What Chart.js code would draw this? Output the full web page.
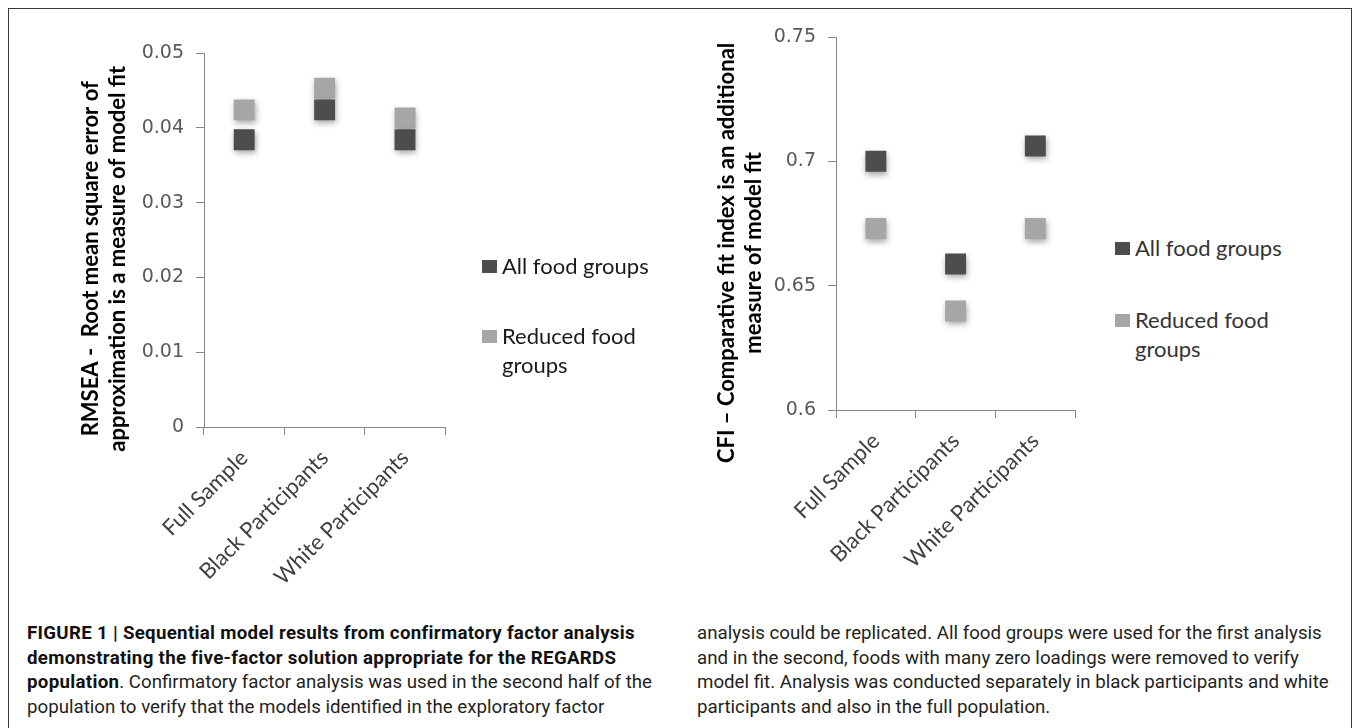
<!DOCTYPE html>
<html>
<head>
<meta charset="utf-8">
<script src="https://cdn.jsdelivr.net/npm/chart.js@4.4.1/dist/chart.umd.min.js"></script>
<style>
  body { margin: 0; background: #fff; width: 1354px; height: 728px; overflow: hidden; position: relative; }
  #frame { position: absolute; left: 8px; top: 8px; width: 1344px; height: 800px; border: 1.5px solid #3a3a3a; box-sizing: border-box; }
  .plot { position: absolute; top: 0; }
  .legend { position: absolute; font-family: Lato, sans-serif; font-size: 22px; line-height: 29px; white-space: nowrap; }
  .legend .item { position: absolute; left: 0; }
  .legend .sw { position: absolute; width: 15px; height: 13px; left: 0; top: 9px; }
  .legend .txt { position: absolute; left: 20px; top: 0; }
  .caption { position: absolute; top: 621px; font-family: Roboto, "Liberation Sans", sans-serif; font-size: 18.7px; line-height: 24.5px; color: #231f20; white-space: nowrap; }
  .caption b { font-weight: bold; letter-spacing: 0.3px; color: #111; }
</style>
</head>
<body>
<div id="frame"></div>

<div class="plot" style="left:0px"><canvas id="rmseaChart" width="460" height="600"></canvas></div>
<div class="plot" style="left:640px"><canvas id="cfiChart" width="450" height="600"></canvas></div>

<div class="legend" style="left:482px; top:0; color:#1a1a1a">
  <div class="item" style="top:251px"><div class="sw" style="background:#4d4d4d"></div><div class="txt">All food groups</div></div>
  <div class="item" style="top:321px"><div class="sw" style="background:#a6a6a6"></div><div class="txt">Reduced food<br>groups</div></div>
</div>
<div class="legend" style="left:1115px; top:0; color:#333">
  <div class="item" style="top:233px"><div class="sw" style="background:#4d4d4d"></div><div class="txt">All food groups</div></div>
  <div class="item" style="top:305px"><div class="sw" style="background:#a6a6a6"></div><div class="txt">Reduced food<br>groups</div></div>
</div>

<div class="caption" style="left:27px">
  <b>FIGURE 1 | Sequential model results from confirmatory factor analysis</b><br>
  <b>demonstrating the five-factor solution appropriate for the REGARDS</b><br>
  <b>population</b>. Confirmatory factor analysis was used in the second half of the<br>
  population to verify that the models identified in the exploratory factor
</div>
<div class="caption" style="left:697px">
  analysis could be replicated. All food groups were used for the first analysis<br>
  and in the second, foods with many zero loadings were removed to verify<br>
  model fit. Analysis was conducted separately in black participants and white<br>
  participants and also in the full population.
</div>

<script>
const categories = ['Full Sample', 'Black Participants', 'White Participants'];
const seriesNames = ['All food groups', 'Reduced food groups'];

// RMSEA panel
const rmseaAll = [0.0384, 0.0424, 0.0384];
const rmseaReduced = [0.0424, 0.0453, 0.0413];

// CFI panel
const cfiAll = [0.700, 0.6587, 0.7062];
const cfiReduced = [0.673, 0.6398, 0.673];

const darkGrey = '#4d4d4d';
const lightGrey = '#a6a6a6';
const axisGrey = '#868686';

// soft drop shadow under the square markers, like the Excel original
const markerShadow = {
    id: 'markerShadow',
    beforeDatasetsDraw(chart) {
        const c = chart.ctx;
        c.save();
        c.shadowColor = 'rgba(0,0,0,0.35)';
        c.shadowBlur = 6;
        c.shadowOffsetX = 1;
        c.shadowOffsetY = 3;
    },
    afterDatasetsDraw(chart) {
        chart.ctx.restore();
    }
};

function dataset(label, values, color) {
    return {
        label: label,
        data: values,
        showLine: false,
        pointStyle: 'rect',
        pointRadius: 14.8,
        pointHoverRadius: 14.8,
        pointBorderWidth: 0,
        backgroundColor: color,
        borderColor: color,
    };
}

function buildChart(canvasId, all, reduced, yMin, yMax, yStep, titleLines, pad, yWidth, xHeight) {
    const config = {
        type: 'line',
        data: {
            labels: categories,
            datasets: [
                dataset(seriesNames[0], all, darkGrey),
                dataset(seriesNames[1], reduced, lightGrey),
            ]
        },
        options: {
            responsive: false,
            animation: false,
            layout: { padding: pad },
            plugins: {
                legend: { display: false },
                tooltip: { enabled: false }
            },
            scales: {
                x: {
                    offset: true,
                    grid: {
                        offset: true,
                        drawOnChartArea: false,
                        drawTicks: true,
                        tickLength: 8,
                        color: axisGrey,
                    },
                    border: { display: true, color: axisGrey, width: 1 },
                    ticks: {
                        minRotation: 45,
                        maxRotation: 45,
                        padding: 10,
                        color: '#404040',
                        font: { family: 'Lato', size: 22 }
                    },
                    afterFit(scale) { scale.height = xHeight; }
                },
                y: {
                    min: yMin,
                    max: yMax,
                    grid: {
                        drawOnChartArea: false,
                        drawTicks: true,
                        tickLength: 8,
                        color: axisGrey,
                    },
                    border: { display: true, color: axisGrey, width: 1 },
                    ticks: {
                        stepSize: yStep,
                        padding: 12,
                        color: '#595959',
                        font: { family: 'DejaVu Sans', size: 19 },
                        callback: (v) => String(parseFloat(v.toFixed(4)))
                    },
                    title: {
                        display: true,
                        text: titleLines,
                        color: '#000',
                        font: { family: 'Lato', size: 22, weight: 'bold', lineHeight: 1.2 }
                    },
                    afterFit(scale) { scale.width = yWidth; }
                }
            }
        },
        plugins: [markerShadow]
    };
    return new Chart(document.getElementById(canvasId), config);
}

document.addEventListener('DOMContentLoaded', function () {
    // trailing spaces nudge the rotated titles down, as in the original layout
    buildChart('rmseaChart', rmseaAll, rmseaReduced, 0, 0.05, 0.01,
        ['RMSEA -  Root mean square error of       ', 'approximation is a measure of model fit       '],
        { left: 74, top: 53, right: 14, bottom: 0 }, 130, 173);

    buildChart('cfiChart', cfiAll, cfiReduced, 0.6, 0.75, 0.05,
        ['CFI – Comparative fit index is an additional           ', 'measure of model fit           '],
        { left: 70, top: 37, right: 12, bottom: 0 }, 126, 190);
});
</script>
</body>
</html>
